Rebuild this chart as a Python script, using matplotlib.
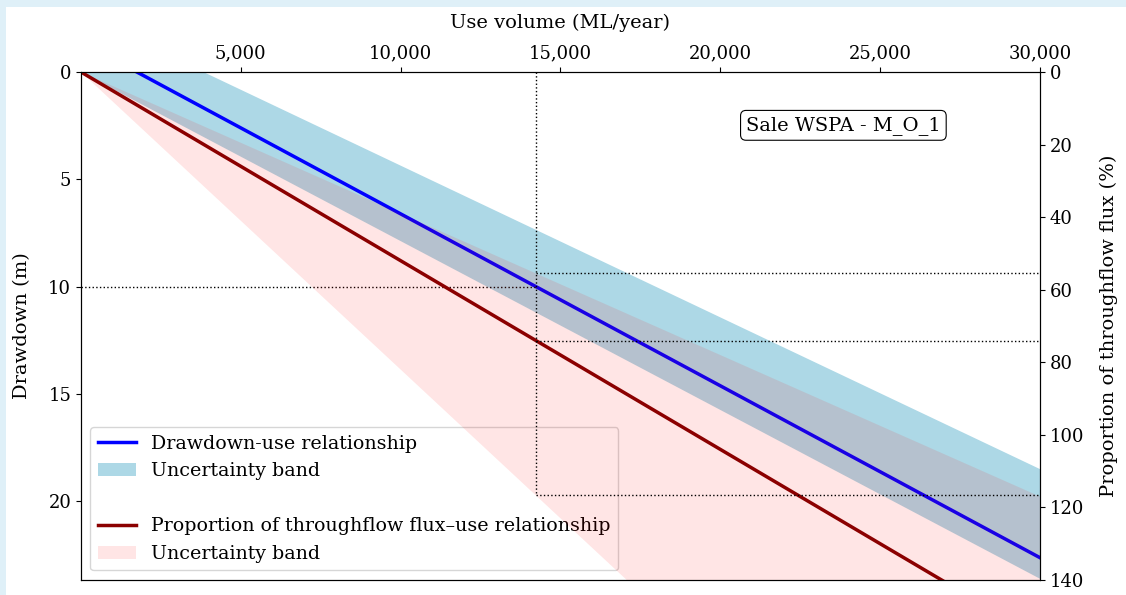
import matplotlib
matplotlib.use('Agg')
import matplotlib.pyplot as plt
from matplotlib.lines import Line2D
from matplotlib.patches import Patch, Rectangle
from matplotlib.ticker import FuncFormatter

plt.rcParams['font.family'] = 'DejaVu Serif'
plt.rcParams['font.size'] = 13

# values (end points of each straight relationship)
use_range = [0, 30000]
drawdown_mid = [-1.40, 22.63]
drawdown_upper = [-2.72, 18.49]
drawdown_lower = [0.0, 23.6]
flux_mid = [0.0, 156.0]
flux_upper = [0.0, 117.0]
flux_lower = [0.0, 246.0]

selected_use = 14230
selected_drawdown = 10
selected_flux = [55.5, 74.0, 116.5]

x_ticks = [5000, 10000, 15000, 20000, 25000, 30000]
dd_ticks = [0, 5, 10, 15, 20]
flux_ticks = [0, 20, 40, 60, 80, 100, 120, 140]
site_name = 'Sale WSPA - M_O_1'

fig = plt.figure(figsize=(11.26, 5.95), dpi=100)
fig.patch.set_facecolor('#dff0f8')
fig.patches.append(Rectangle((6/1126, 0), 1, 1 - 7/595, transform=fig.transFigure,
                             facecolor='white', edgecolor='none', zorder=-1))

ax = fig.add_axes([0.0719, 0.0252, 0.8517, 0.8538])
ax2 = ax.twinx()

# drawdown on left axis
ax.fill_between(use_range, drawdown_upper, drawdown_lower, color='lightblue', lw=0)
ax.plot(use_range, drawdown_mid, color='blue', lw=2.5)
ax.plot([0, selected_use], [selected_drawdown, selected_drawdown], color='black', ls=':', lw=1)

ax.set_xlim(0, 30000)
ax.set_ylim(23.67, 0)
ax.xaxis.tick_top()
ax.xaxis.set_label_position('top')
ax.set_xticks(x_ticks)
ax.xaxis.set_major_formatter(FuncFormatter(lambda v, p: f'{int(v):,}'))
ax.set_yticks(dd_ticks)
ax.set_xlabel('Use volume (ML/year)', fontsize=14, labelpad=12)
ax.set_ylabel('Drawdown (m)', fontsize=14, labelpad=12)

# throughflow flux on right axis
ax2.fill_between(use_range, flux_upper, flux_lower, color='red', alpha=0.1, lw=0)
ax2.plot(use_range, flux_mid, color='darkred', lw=2.5)
ax2.plot([selected_use, selected_use], [0, max(selected_flux)], color='black', ls=':', lw=1)
for f in selected_flux:
    ax2.plot([selected_use, 30000], [f, f], color='black', ls=':', lw=1)
ax2.set_ylim(140, 0)
ax2.set_yticks(flux_ticks)
ax2.set_ylabel('Proportion of throughflow flux (%)', fontsize=14, labelpad=11)

ax2.text(0.795, 0.895, site_name, transform=ax2.transAxes, ha='center', va='center', fontsize=14,
         bbox=dict(boxstyle='round,pad=0.28', facecolor='white', edgecolor='black', lw=0.8))

handles = [
    Line2D([], [], color='blue', lw=2.5, label='Drawdown-use relationship'),
    Patch(facecolor='lightblue', label='Uncertainty band'),
    Line2D([], [], color='none', label=' '),
    Line2D([], [], color='darkred', lw=2.5, label='Proportion of throughflow flux\u2013use relationship'),
    Patch(facecolor='red', alpha=0.1, label='Uncertainty band'),
]
ax.legend(handles=handles, loc='lower left', fontsize=13.7)

fig.savefig('out.png', dpi=100, facecolor=fig.get_facecolor())
